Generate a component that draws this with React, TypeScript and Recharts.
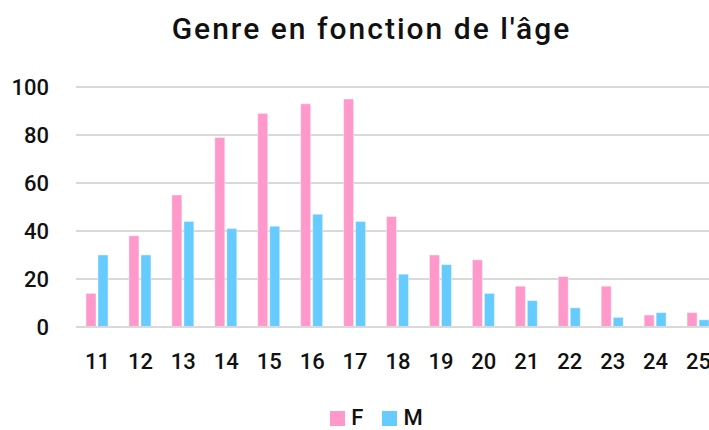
import { BarChart, Bar, XAxis, YAxis, CartesianGrid, Legend } from 'recharts'

const ages = ['11', '12', '13', '14', '15', '16', '17', '18', '19', '20', '21', '22', '23', '24', '25']
const femmes = [14, 38, 55, 79, 89, 93, 95, 46, 30, 28, 17, 21, 17, 5, 6]
const hommes = [30, 30, 44, 41, 42, 47, 44, 22, 26, 14, 11, 8, 4, 6, 3]
const yTicks = [0, 20, 40, 60, 80, 100]

const PINK = '#FF99CC'
const BLUE = '#66CCFF'
const FONT = 'Roboto, "DejaVu Sans", sans-serif'

const data = ages.map((age, i) => ({ age, F: femmes[i], M: hommes[i] }))

function LegendContent() {
    const items = [
        { label: 'F', color: PINK },
        { label: 'M', color: BLUE },
    ]
    return (
        <div style={{ display: 'flex', justifyContent: 'center', alignItems: 'center', gap: 19, height: 22 }}>
            {items.map((it) => (
                <div key={it.label} style={{ display: 'flex', alignItems: 'center', gap: 6 }}>
                    <span style={{ width: 15, height: 15, background: it.color, display: 'inline-block' }} />
                    <span style={{ fontFamily: FONT, fontSize: 22, fontWeight: 500, color: '#111', lineHeight: '22px' }}>
                        {it.label}
                    </span>
                </div>
            ))}
        </div>
    )
}

export default function App() {
    return (
        <div
            style={{
                position: 'absolute',
                left: 0,
                top: 0,
                width: 709,
                height: 430,
                overflow: 'hidden',
                background: '#fff',
            }}
        >
            <div
                style={{
                    position: 'absolute',
                    left: 0,
                    width: 743,
                    top: 11,
                    textAlign: 'center',
                    fontFamily: FONT,
                    fontSize: 30,
                    fontWeight: 500,
                    letterSpacing: 2,
                    lineHeight: '36px',
                    color: '#111',
                }}
            >
                Genre en fonction de l'âge
            </div>
            <div style={{ position: 'absolute', left: 0, top: 0 }}>
                <BarChart
                    width={730}
                    height={430}
                    data={data}
                    margin={{ top: 87, right: 10, left: 0, bottom: 51 }}
                    barSize={10}
                    barGap={2}
                >
                    <CartesianGrid vertical={false} stroke="#D9D9D9" strokeWidth={2} />
                    <XAxis
                        dataKey="age"
                        axisLine={{ stroke: '#D9D9D9', strokeWidth: 2 }}
                        tickLine={false}
                        tickSize={0}
                        tickMargin={26}
                        tick={{ fill: '#111', fontFamily: FONT, fontSize: 22, fontWeight: 500 }}
                        interval={0}
                    />
                    <YAxis
                        width={76}
                        domain={[0, 100]}
                        ticks={yTicks}
                        axisLine={false}
                        tickLine={false}
                        tickSize={0}
                        tickMargin={27}
                        tick={{ fill: '#111', fontFamily: FONT, fontSize: 22, fontWeight: 500 }}
                    />
                    <Legend
                        content={<LegendContent />}
                        wrapperStyle={{ left: 0, width: 753, top: 407 }}
                    />
                    <Bar dataKey="F" fill={PINK} stroke="#FFFFFF" strokeOpacity={0.5} strokeWidth={0.8} isAnimationActive={false} />
                    <Bar dataKey="M" fill={BLUE} stroke="#FFFFFF" strokeOpacity={0.5} strokeWidth={0.8} isAnimationActive={false} />
                </BarChart>
            </div>
        </div>
    )
}
